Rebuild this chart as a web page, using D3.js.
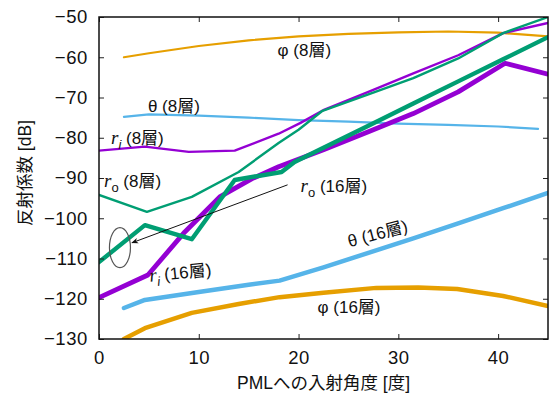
<!DOCTYPE html>
<html>
<head>
<meta charset="utf-8">
<script src="https://cdn.jsdelivr.net/npm/d3@7"></script>
<style>
  html, body { margin: 0; padding: 0; background: #fff; }
  svg { display: block; }
  text { font-family: "Liberation Sans", "Noto Sans CJK JP", sans-serif; fill: #111; }
</style>
</head>
<body>
<svg id="chart" width="553" height="399"></svg>
<script>
// Incidence angle [deg] and reflection coefficient [dB] for each curve
const phi8X   = [2.5, 5, 10, 15, 20, 25, 30, 35, 40, 45];
const phi8Y   = [-60, -59, -57.2, -55.8, -54.8, -54.2, -53.8, -53.6, -53.9, -54.8];
const theta8X = [2.5, 5, 10, 15, 20, 25, 30, 35, 40, 44];
const theta8Y = [-74.8, -74.2, -74.5, -75, -75.6, -76, -76.5, -76.8, -77.2, -77.8];
const ri8X    = [0, 4.6, 9, 13.6, 18, 20.2, 22.6, 27, 31.5, 36, 40.5, 45];
const ri8Y    = [-83.2, -82.2, -83.5, -83.2, -79, -76.3, -73, -68.6, -64, -59.5, -54, -51.5];
const ro8X    = [0, 4.8, 9.3, 14, 18, 20, 22.4, 27, 31.5, 36, 40.5, 45];
const ro8Y    = [-94.2, -98.4, -94.7, -88.5, -81.3, -78, -73.3, -69.2, -65.2, -60.3, -54, -50];
const theta16X = [2.5, 4.6, 10, 15, 18.1, 22.5, 27, 31.5, 36, 40.5, 45];
const theta16Y = [-122.3, -120.3, -118.3, -116.5, -115.5, -112.2, -108.6, -105, -101.3, -97.5, -93.7];
const phi16X  = [2.5, 4.6, 9.3, 14, 18.1, 22.5, 27.8, 32, 35.9, 40.5, 45];
const phi16Y  = [-130, -127.3, -123.5, -121.3, -119.6, -118.5, -117.3, -117.2, -117.6, -119.3, -121.8];
const ri16X   = [0, 4.9, 8.6, 10.1, 12.1, 15.3, 18, 22.5, 27, 31.5, 36, 40.7, 45];
const ri16Y   = [-119.7, -114.1, -103.4, -99.7, -94.7, -90.2, -87.2, -83, -78.5, -74, -68.6, -61.5, -64.2];
const ro16X   = [0, 4.6, 9.3, 13.6, 18.3, 19.6, 22.5, 27, 31.5, 36, 40.5, 45];
const ro16Y   = [-110.9, -101.7, -105.2, -90.5, -88.5, -86, -82.5, -77, -71.5, -66, -60.5, -55];

const xTicks = [0, 10, 20, 30, 40];
const yTicks = [-50, -60, -70, -80, -90, -100, -110, -120, -130];
const xTitle = "PMLへの入射角度 [度]";
const yTitle = "反射係数 [dB]";

const svg = d3.select("#chart");
const m = { left: 99, right: 5, top: 17, bottom: 60 };
const W = 553, H = 399;
const x = d3.scaleLinear().domain([0, 45]).range([m.left, W - m.right]);
const y = d3.scaleLinear().domain([-130, -50]).range([H - m.bottom, m.top]);

svg.append("defs").append("clipPath").attr("id", "plotclip")
  .append("rect")
  .attr("x", x(0)).attr("y", y(-50))
  .attr("width", x(45) - x(0)).attr("height", y(-130) - y(-50));

const series = [
  { xs: phi8X,   ys: phi8Y,   color: "#E69F00", w: 2.2 },
  { xs: theta8X, ys: theta8Y, color: "#56B4E9", w: 2.2 },
  { xs: ri8X,    ys: ri8Y,    color: "#9400D3", w: 2.4 },
  { xs: ro8X,    ys: ro8Y,    color: "#009E73", w: 2.4 },
  { xs: theta16X, ys: theta16Y, color: "#56B4E9", w: 4.5 },
  { xs: phi16X,  ys: phi16Y,  color: "#E69F00", w: 4.5 },
  { xs: ri16X,   ys: ri16Y,   color: "#9400D3", w: 4.8 },
  { xs: ro16X,   ys: ro16Y,   color: "#009E73", w: 4.4 }
];

const line = d3.line().x(d => x(d[0])).y(d => y(d[1]));
const g = svg.append("g").attr("clip-path", "url(#plotclip)");
series.forEach(s => {
  g.append("path")
    .datum(s.xs.map((v, i) => [v, s.ys[i]]))
    .attr("d", line)
    .attr("fill", "none")
    .attr("stroke", s.color)
    .attr("stroke-width", s.w)
    .attr("stroke-linejoin", "round")
    .attr("stroke-linecap", "round");
});

// Axes with inward ticks on all four sides
const tl = 5;
const axisLeft = d3.axisLeft(y).tickValues(yTicks).tickSize(-tl).tickPadding(11).tickFormat(d3.format("d"));
const axisRight = d3.axisRight(y).tickValues(yTicks).tickSize(-tl).tickFormat("");
const axisBottom = d3.axisBottom(x).tickValues(xTicks).tickSize(-tl).tickPadding(12).tickFormat(d3.format("d"));
const axisTop = d3.axisTop(x).tickValues(xTicks).tickSize(-tl).tickFormat("");

function styleAxis(sel) {
  sel.select(".domain").remove();
  sel.selectAll(".tick line").attr("stroke", "#222").attr("stroke-width", 1);
  sel.selectAll(".tick text").attr("font-size", 18.5).attr("fill", "#111")
    .attr("letter-spacing", 0.6)
    .style("font-family", "'Liberation Sans', sans-serif");
}
svg.append("g").attr("transform", `translate(${x(0)},0)`).call(axisLeft).call(styleAxis);
svg.append("g").attr("transform", `translate(${x(45)},0)`).call(axisRight).call(styleAxis);
svg.append("g").attr("transform", `translate(0,${y(-130)})`).call(axisBottom).call(styleAxis);
svg.append("g").attr("transform", `translate(0,${y(-50)})`).call(axisTop).call(styleAxis);

svg.append("rect")
  .attr("x", x(0)).attr("y", y(-50))
  .attr("width", x(45) - x(0)).attr("height", y(-130) - y(-50))
  .attr("fill", "none").attr("stroke", "#111").attr("stroke-width", 1.5);

// Axis titles
svg.append("text")
  .attr("x", (x(0) + x(45)) / 2).attr("y", 389)
  .attr("text-anchor", "middle").attr("font-size", 17.5)
  .text(xTitle);
svg.append("text")
  .attr("transform", `translate(31,${(y(-50) + y(-130)) / 2 - 5}) rotate(-90)`)
  .attr("text-anchor", "middle").attr("font-size", 17.5)
  .text(yTitle);

// Curve labels (position in data units, rotation in degrees)
const labels = [
  { sym: "φ", sub: null, rest: " (8層)", ax: 17.9, ay: -59.8, rot: 0 },
  { sym: "θ", sub: null, rest: " (8層)", ax: 4.9, ay: -73.6, rot: 0 },
  { sym: "r", sub: "i", rest: " (8層)", ax: 1.2, ay: -81.5, rot: 0 },
  { sym: "r", sub: "o", rest: " (8層)", ax: 0.5, ay: -92.2, rot: 0 },
  { sym: "r", sub: "o", rest: " (16層)", ax: 20.2, ay: -93.5, rot: 0 },
  { sym: "r", sub: "i", rest: " (16層)", ax: 5.1, ay: -115.8, rot: -6 },
  { sym: "θ", sub: null, rest: " (16層)", ax: 25.1, ay: -107.2, rot: -15 },
  { sym: "φ", sub: null, rest: " (16層)", ax: 21.9, ay: -123.5, rot: 0 }
];
labels.forEach(l => {
  const t = svg.append("text")
    .attr("transform", `translate(${x(l.ax)},${y(l.ay)}) rotate(${l.rot})`)
    .attr("font-size", 17);
  if (l.sym === "r") {
    t.append("tspan").text("r").attr("font-style", "italic")
      .style("font-family", "'Liberation Serif', serif").attr("font-size", 19);
    t.append("tspan").text(l.sub).attr("dy", 5).attr("font-size", 13)
      .attr("font-style", l.sub === "i" ? "italic" : "normal");
    t.append("tspan").text(l.rest).attr("dy", -5);
  } else {
    t.append("tspan").text(l.sym);
    t.append("tspan").text(l.rest);
  }
});

// Pointer from the r_o (16層) label to the circled curve
const arrowFrom = [18.9, -91.7], arrowTo = [3.3, -106.1];
const ringAt = [2.1, -107.3];
svg.select("defs").append("marker")
  .attr("id", "head").attr("viewBox", "0 0 10 10")
  .attr("refX", 9).attr("refY", 5)
  .attr("markerWidth", 9).attr("markerHeight", 7)
  .attr("orient", "auto")
  .append("path").attr("d", "M0,1 L10,5 L0,9 L3,5 Z").attr("fill", "#111");
svg.append("line")
  .attr("x1", x(arrowFrom[0])).attr("y1", y(arrowFrom[1]))
  .attr("x2", x(arrowTo[0])).attr("y2", y(arrowTo[1]))
  .attr("stroke", "#111").attr("stroke-width", 1)
  .attr("marker-end", "url(#head)");
svg.append("ellipse")
  .attr("cx", x(ringAt[0])).attr("cy", y(ringAt[1]))
  .attr("rx", 10.5).attr("ry", 20)
  .attr("fill", "none").attr("stroke", "#555").attr("stroke-width", 1.2);
</script>
</body>
</html>
